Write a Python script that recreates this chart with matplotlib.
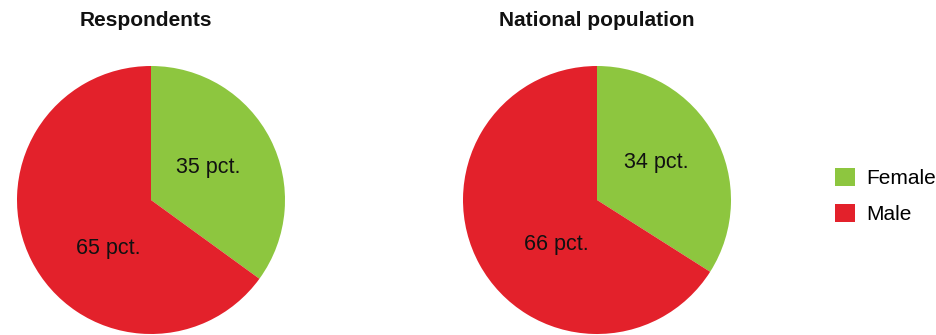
import matplotlib.pyplot as plt
from matplotlib.patches import Patch

plt.rcParams['font.family'] = ['Liberation Sans', 'DejaVu Sans']

categories = ['Female', 'Male']
respondents = [35, 65]
national = [34, 66]
titles = ['Respondents', 'National population']
colors = ['#8dc63f', '#e3212b']

fig = plt.figure(figsize=(9.37, 3.35), dpi=100)
W, H = 937, 335

def pie_axes(cx, cy, r):
    # cx, cy, r in pixels, cy from the top
    return fig.add_axes([(cx - r) / W, (H - cy - r) / H, 2 * r / W, 2 * r / H])

panels = [
    (151, 200, respondents, titles[0], 146, [(0.43, 0.24), (-0.32, -0.36)]),
    (597, 200, national, titles[1], 597, [(0.44, 0.28), (-0.30, -0.33)]),
]

for cx, cy, vals, title, tx, label_pos in panels:
    ax = pie_axes(cx, cy, 134)
    ax.pie(vals, colors=colors, startangle=90, counterclock=False,
           radius=1, wedgeprops=dict(linewidth=0))
    ax.set_xlim(-1, 1)
    ax.set_ylim(-1, 1)
    ax.set_aspect('auto')
    ax.axis('off')
    for v, (lx, ly) in zip(vals, label_pos):
        ax.text(lx, ly, f'{v} pct.', ha='center', va='center', fontsize=15.5,
                color='#111111')
    fig.text(tx / W, 1 - 20 / H, title, ha='center', va='center',
             fontsize=15, fontweight='bold', color='#111111')

handles = [Patch(facecolor=c, edgecolor='none') for c in colors]
fig.legend(handles, categories, loc='center left', bbox_to_anchor=(827 / W, 1 - 196 / H),
           frameon=False, fontsize=15, handlelength=0.95, handleheight=0.95,
           handletextpad=0.55, labelspacing=0.75, borderaxespad=0)

fig.savefig('out.png', dpi=100)
